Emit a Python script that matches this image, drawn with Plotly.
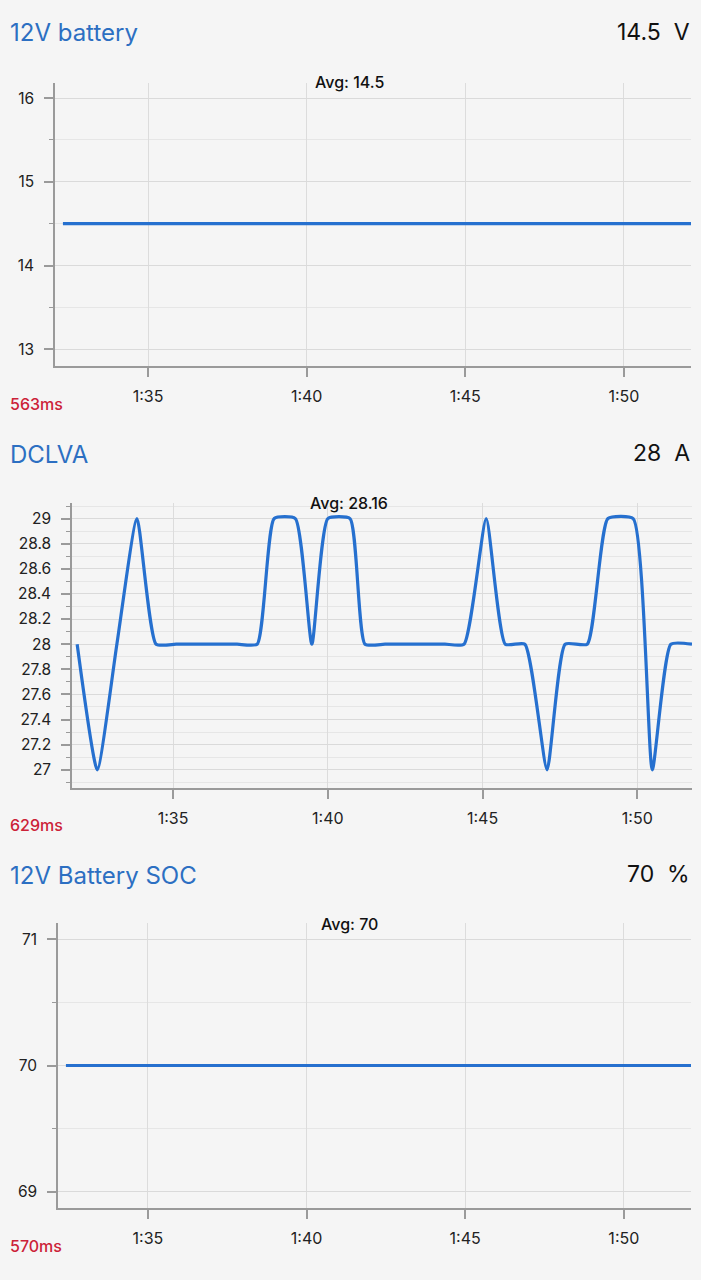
import plotly.graph_objects as go

# ---------------- data ----------------
battery_times = ["2024-01-01 01:32:19", "2024-01-01 01:52:07"]
battery_values = [14.5, 14.5]

dclva_times = [
    "01:31:54", "01:32:33", "01:33:11", "01:33:50", "01:34:27", "01:35:06",
    "01:35:45", "01:36:23", "01:37:04", "01:37:43", "01:38:16", "01:38:57",
    "01:39:29", "01:40:00", "01:40:43", "01:41:12", "01:41:51", "01:42:30",
    "01:43:09", "01:43:47", "01:44:24", "01:45:07", "01:45:44", "01:46:22",
    "01:47:05", "01:47:40", "01:48:23", "01:49:03", "01:49:52", "01:50:29",
    "01:51:05", "01:51:46",
]
dclva_values = [
    28, 27, 28, 29, 28, 28,
    28, 28, 28, 28, 29, 29,
    28, 29, 29, 28, 28, 28,
    28, 28, 28, 29, 28, 28,
    27, 28, 28, 29, 29, 27,
    28, 28,
]

soc_times = ["2024-01-01 01:32:25", "2024-01-01 01:52:07"]
soc_values = [70, 70]

titles = ["12V battery", "DCLVA", "12V Battery SOC"]
current_values = ["14.5  V", "28  A", "70  %"]
avg_labels = ["Avg: 14.5", "Avg: 28.16", "Avg: 70"]
latencies = ["563ms", "629ms", "570ms"]

x_tickvals = ["2024-01-01 01:35:00", "2024-01-01 01:40:00",
              "2024-01-01 01:45:00", "2024-01-01 01:50:00"]
x_ticktext = ["1:35", "1:40", "1:45", "1:50"]

battery_yticks = [13, 14, 15, 16]
battery_yticktext = ["13", "14", "15", "16"]
dclva_yticks = [27, 27.2, 27.4, 27.6, 27.8, 28, 28.2, 28.4, 28.6, 28.8, 29]
dclva_yticktext = ["27", "27.2", "27.4", "27.6", "27.8", "28", "28.2",
                   "28.4", "28.6", "28.8", "29"]
soc_yticks = [69, 70, 71]
soc_yticktext = ["69", "70", "71"]

# ---------------- layout constants ----------------
W, H = 701, 1280
BG = "#f5f5f5"
LINE_BLUE = "#2670cf"
TITLE_BLUE = "#2c6fc2"
RED = "#cc2238"
FONT = "Inter, Roboto, 'DejaVu Sans', sans-serif"

dclva_full = ["2024-01-01 " + t for t in dclva_times]


def py(p):
    return 1 - p / H


panels = [
    dict(x0=55, x1=691, top=83, bottom=366,
         xr=["2024-01-01 01:32:04", "2024-01-01 01:52:07"], yr=[12.8, 16.18],
         minor=0.5, tick0=13, tv=battery_yticks, tt=battery_yticktext,
         title_y=33, avg_y=82, ms_y=404),
    dict(x0=72, x1=692, top=503, bottom=788,
         xr=["2024-01-01 01:31:44", "2024-01-01 01:51:46"], yr=[26.855, 29.124],
         minor=0.1, tick0=27, tv=dclva_yticks, tt=dclva_yticktext,
         title_y=454, avg_y=503, ms_y=825),
    dict(x0=58, x1=691, top=923, bottom=1208,
         xr=["2024-01-01 01:32:10", "2024-01-01 01:52:07"], yr=[68.87, 71.13],
         minor=0.5, tick0=69, tv=soc_yticks, tt=soc_yticktext,
         title_y=875, avg_y=924, ms_y=1246),
]

series = [(battery_times, battery_values, "linear"),
          (dclva_full, dclva_values, "spline"),
          (soc_times, soc_values, "linear")]

fig = go.Figure()
annotations = []

for i, (p, (xs, ys, shape)) in enumerate(zip(panels, series)):
    n = "" if i == 0 else str(i + 1)
    xa = "x" + n
    ya = "y" + n
    line = dict(color=LINE_BLUE, width=3.2, shape=shape)
    if shape == "spline":
        line["smoothing"] = 0.5
    fig.add_trace(go.Scatter(x=xs, y=ys, mode="lines", line=line,
                             xaxis=xa, yaxis=ya, hoverinfo="skip",
                             showlegend=False))

    fig.layout["xaxis" + n] = dict(
        domain=[p["x0"] / W, p["x1"] / W], anchor=ya, type="date",
        range=p["xr"], tickvals=x_tickvals, ticktext=x_ticktext,
        showgrid=True, gridcolor="#dcdcdc", gridwidth=1,
        showline=True, linecolor="#9a9a9a", linewidth=1.5,
        ticks="outside", ticklen=9, tickwidth=1.5, tickcolor="#9a9a9a",
        ticklabelstandoff=6,
        tickfont=dict(family=FONT, size=16, color="#222222"),
        zeroline=False, fixedrange=True,
    )
    fig.layout["yaxis" + n] = dict(
        domain=[py(p["bottom"]), py(p["top"])], anchor=xa,
        range=p["yr"], tickvals=p["tv"], ticktext=p["tt"],
        showgrid=True, gridcolor="#dadada", gridwidth=1,
        showline=True, linecolor="#9a9a9a", linewidth=1.5,
        ticks="outside", ticklen=9, tickwidth=1.5, tickcolor="#9a9a9a",
        ticklabelstandoff=7,
        tickfont=dict(family=FONT, size=15.5, color="#222222"),
        minor=dict(dtick=p["minor"], tick0=p["tick0"], ticks="outside",
                   ticklen=4, tickwidth=1, tickcolor="#9a9a9a",
                   showgrid=True, gridcolor="#e6e6e6", gridwidth=1),
        zeroline=False, fixedrange=True,
    )

    annotations.append(dict(
        text=titles[i], xref="paper", yref="paper", x=8 / W, y=py(p["title_y"]),
        xanchor="left", yanchor="middle", showarrow=False,
        font=dict(family=FONT, size=24, color=TITLE_BLUE)))
    annotations.append(dict(
        text=current_values[i], xref="paper", yref="paper", x=692 / W,
        y=py(p["title_y"] - 1), xanchor="right", yanchor="middle",
        showarrow=False, font=dict(family=FONT, size=23, color="#111111")))
    annotations.append(dict(
        text=avg_labels[i], xref="paper", yref="paper", x=349 / W,
        y=py(p["avg_y"]), xanchor="center", yanchor="middle", showarrow=False,
        font=dict(family=FONT, size=16, color="#111111", weight=500)))
    annotations.append(dict(
        text=latencies[i], xref="paper", yref="paper", x=8 / W,
        y=py(p["ms_y"]), xanchor="left", yanchor="middle", showarrow=False,
        font=dict(family=FONT, size=16, color=RED, weight=500)))

fig.update_layout(
    width=W, height=H, margin=dict(l=0, r=0, t=0, b=0),
    paper_bgcolor=BG, plot_bgcolor=BG,
    annotations=annotations, showlegend=False,
    font=dict(family=FONT),
)

fig.write_html("out.html", config={"displayModeBar": False})
